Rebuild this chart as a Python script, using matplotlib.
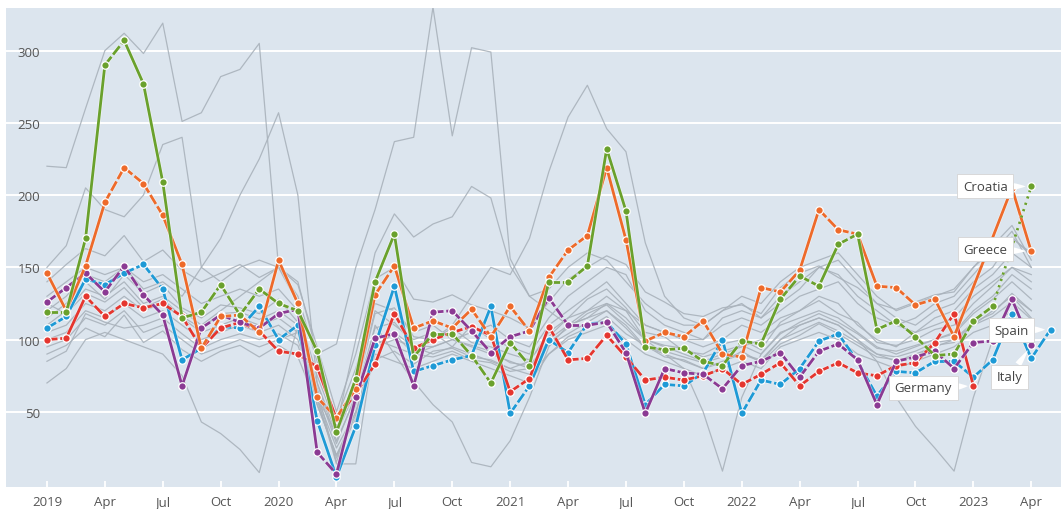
import numpy as np
import matplotlib.pyplot as plt
from matplotlib.collections import LineCollection
import matplotlib.patheffects as pe

plt.rcParams['font.family'] = ['Open Sans', 'DejaVu Sans']

nan = np.nan
months = np.arange(53)  # 0 = Jan 2019 ... 52 = May 2023
tick_pos = np.arange(0, 52, 3)
tick_labels = ['2019', 'Apr', 'Jul', 'Oct', '2020', 'Apr', 'Jul', 'Oct',
               '2021', 'Apr', 'Jul', 'Oct', '2022', 'Apr', 'Jul', 'Oct',
               '2023', 'Apr']
y_ticks = [50, 100, 150, 200, 250, 300]

# highlighted countries
croatia = [119, 119, 170, 290, 307, 277, 209, 115, 119, 138, 117, 135,
           125, 120, 92, 36, 73, 140, 173, 88, 104, 104, 89, 70,
           98, 82, 140, 140, 151, 232, 189, 95, 93, 94, 85, 82,
           99, 97, 128, 144, 137, 166, 173, 107, 113, 102, 89, 90,
           113, 123, nan, 206, nan]
greece = [146, 120, 151, 195, 219, 208, 186, 152, 94, 116, 117, 105,
          155, 125, 60, 46, 66, 131, 151, 108, 113, 108, 121, 102,
          123, 106, 143, 162, 172, 219, 169, 99, 105, 102, 113, 90,
          88, 136, 133, 148, 190, 176, 173, 137, 136, 124, 128, 102,
          nan, nan, 205, 161, nan]
spain = [108, 116, 142, 138, 146, 152, 135, 86, 94, 109, 108, 123,
         100, 110, 44, 5, 40, 96, 137, 78, 82, 86, 89, 123,
         49, 68, 100, 91, 111, 112, 97, 55, 69, 68, 77, 100,
         49, 72, 69, 80, 99, 104, 85, 61, 78, 77, 85, 85,
         74, 86, 118, 87, 107]
italy = [126, 136, 146, 133, 151, 131, 117, 68, 108, 117, 112, 108,
         118, 121, 22, 7, 60, 101, 104, 68, 119, 120, 106, 91,
         102, 106, 129, 110, 110, 112, 91, 49, 80, 77, 76, 66,
         82, 85, 91, 74, 92, 97, 86, 55, 85, 88, 92, 80,
         98, 99, 128, 96, nan]
germany = [100, 101, 130, 116, 125, 122, 125, 116, 94, 108, 112, 106,
           92, 90, 81, 45, 63, 83, 118, 94, 100, 105, 109, 103,
           64, 73, 109, 86, 87, 103, 88, 72, 74, 72, 75, 80,
           69, 76, 84, 68, 78, 84, 77, 75, 82, 84, 98, 118,
           68, nan, nan, nan, nan]

# other countries (grey background lines)
grey_lines = [
    [220, 219, 260, 300, 312, 298, 319, 251, 257, 282, 287, 305,
     150, 125, 60, 35, 70, 120, 110, 100, 105, 95, 110, 100,
     95, 90, 110, 120, 130, 140, 125, 110, 105, 100, 95, 100,
     110, 105, 115, 120, 130, 125, 110, 100, 95, 105, 110, 115,
     130, 140, 150, 145, nan],
    [150, 165, 205, 190, 185, 200, 235, 240, 150, 140, 150, 155,
     150, 130, 85, 45, 80, 125, 120, 105, 110, 100, 105, 110,
     100, 95, 115, 130, 140, 150, 145, 120, 110, 105, 100, 115,
     120, 115, 125, 135, 150, 155, 140, 125, 115, 110, 120, 125,
     140, 150, 170, 160, nan],
    [130, 140, 150, 145, 150, 135, 140, 130, 150, 170, 200, 225,
     257, 200, 70, 30, 60, 100, 95, 90, 95, 100, 95, 90,
     85, 80, 100, 110, 120, 130, 120, 100, 95, 90, 85, 90,
     95, 100, 110, 115, 120, 115, 105, 95, 90, 95, 100, 105,
     120, 130, 145, 135, nan],
    [110, 120, 135, 130, 140, 125, 130, 120, 110, 120, 130, 140,
     150, 140, 90, 97, 150, 190, 237, 240, 330, 241, 302, 299,
     156, 130, 120, 110, 115, 125, 120, 110, 105, 100, 100, 110,
     115, 110, 120, 130, 135, 140, 125, 115, 110, 105, 115, 120,
     135, 145, 160, 150, nan],
    [95, 100, 115, 110, 120, 105, 110, 100, 90, 95, 100, 95,
     100, 105, 60, 25, 50, 95, 100, 95, 100, 110, 130, 150,
     145, 170, 216, 254, 276, 246, 230, 167, 130, 115, 110, 120,
     125, 115, 130, 140, 150, 145, 130, 120, 110, 115, 125, 130,
     145, 160, 175, 150, nan],
    [120, 130, 145, 140, 150, 140, 145, 135, 125, 130, 135, 130,
     135, 120, 75, 40, 100, 160, 187, 171, 180, 185, 206, 198,
     151, 130, 135, 150, 160, 155, 140, 125, 115, 110, 110, 120,
     130, 125, 140, 150, 155, 160, 145, 130, 120, 125, 130, 135,
     150, 165, 179, 155, nan],
    [70, 80, 100, 105, 100, 95, 90, 75, 43, 35, 24, 8,
     60, 110, 55, 20, 45, 90, 85, 80, 85, 90, 85, 80,
     75, 70, 90, 100, 105, 110, 100, 90, 85, 80, 75, 80,
     85, 80, 95, 100, 105, 100, 90, 85, 80, 85, 90, 95,
     105, 110, 120, 110, nan],
    [105, 110, 125, 120, 130, 120, 125, 115, 105, 110, 115, 110,
     115, 105, 65, 15, 55, 110, 90, 71, 55, 43, 15, 12,
     30, 60, 95, 110, 115, 120, 110, 95, 90, 85, 80, 85,
     90, 85, 100, 110, 115, 110, 100, 90, 85, 90, 95, 100,
     110, 120, 130, 120, nan],
    [100, 105, 120, 115, 125, 115, 120, 110, 100, 105, 110, 105,
     110, 100, 60, 14, 14, 100, 105, 95, 90, 95, 90, 85,
     80, 85, 105, 115, 120, 125, 115, 100, 90, 80, 50, 9,
     60, 90, 105, 110, 115, 110, 100, 85, 60, 40, 25, 9,
     60, 100, 130, 115, nan],
    [115, 125, 140, 128, 145, 132, 138, 122, 115, 124, 122, 118,
     128, 112, 70, 35, 65, 118, 122, 102, 100, 108, 98, 95,
     90, 86, 102, 115, 128, 135, 122, 105, 102, 92, 90, 97,
     100, 93, 112, 120, 127, 118, 112, 98, 96, 100, 107, 110,
     125, 137, 150, 140, nan],
    [90, 96, 108, 102, 117, 98, 106, 93, 85, 92, 96, 88,
     96, 88, 55, 20, 50, 86, 92, 83, 92, 94, 88, 86,
     80, 76, 90, 102, 108, 116, 104, 96, 88, 86, 80, 84,
     92, 84, 97, 103, 111, 104, 96, 88, 86, 88, 96, 98,
     110, 116, 126, 114, nan],
    [140, 152, 163, 158, 172, 154, 162, 148, 140, 146, 152, 143,
     150, 138, 95, 50, 90, 142, 150, 128, 126, 131, 124, 120,
     115, 108, 126, 142, 150, 158, 152, 133, 126, 118, 116, 122,
     124, 118, 136, 146, 151, 143, 136, 125, 121, 126, 131, 133,
     150, 162, 171, 158, nan],
    [125, 118, 132, 126, 136, 122, 128, 116, 108, 118, 119, 114,
     120, 110, 66, 28, 62, 108, 112, 96, 95, 100, 96, 92,
     84, 82, 98, 108, 118, 124, 112, 100, 96, 94, 88, 92,
     96, 90, 104, 112, 118, 112, 104, 94, 92, 96, 100, 104,
     118, 128, 140, 128, nan],
    [85, 92, 118, 112, 108, 110, 115, 104, 94, 100, 104, 100,
     104, 96, 58, 18, 48, 96, 104, 90, 88, 92, 86, 84,
     78, 80, 96, 104, 112, 120, 108, 94, 92, 88, 84, 88,
     90, 86, 100, 106, 112, 106, 98, 90, 88, 92, 98, 100,
     112, 118, 132, 120, nan],
]

highlight = [
    ('Spain', spain, '#1e9ad6', ':'),
    ('Germany', germany, '#e5362f', ':'),
    ('Italy', italy, '#8b3a93', ':'),
    ('Greece', greece, '#ee6a2a', 'solid'),
    ('Croatia', croatia, '#6aa12c', (0, (0.8, 1.6))),
]

fig = plt.figure(figsize=(10.61, 5.10), dpi=100)
ax = fig.add_axes([0.0057, 0.0431, 0.9943, 0.9393])
ax.set_facecolor('#dce5ee')

for g in grey_lines:
    ax.plot(months, g, color='#a9b2bb', linewidth=0.9, alpha=0.9, zorder=2)

for z, (name, vals, color, gap_ls) in enumerate(highlight):
    vals = np.asarray(vals, dtype=float)
    ok = np.where(~np.isnan(vals))[0]
    segs, styles = [], []
    for a, b in zip(ok[:-1], ok[1:]):
        segs.append([(months[a], vals[a]), (months[b], vals[b])])
        if b - a > 1:
            styles.append(gap_ls)
        elif abs(vals[b] - vals[a]) >= 25:
            styles.append('solid')
        else:
            styles.append((0, (3.8, 1.0)))
    lc = LineCollection(segs, colors=color, linewidths=2.0, linestyles=styles,
                        zorder=4 + z)
    lc.set_path_effects([pe.Stroke(linewidth=3.0, foreground='white', alpha=0.5),
                         pe.Normal()])
    ax.add_collection(lc)
    ax.plot(months, vals, 'o', color=color, markersize=5.4,
            markeredgecolor='white', markeredgewidth=0.9, zorder=4.5 + z)

# callout labels
label_specs = [
    ('Croatia', 51, croatia[51], (-33, 0)),
    ('Greece', 51, greece[51], (-33, 1.5)),
    ('Spain', 52, spain[52], (-28, -0.5)),
    ('Italy', 51, italy[51], (-15.5, -22.5)),
    ('Germany', 48, germany[48], (-36, -1.5)),
]
for name, m, v, off in label_specs:
    ax.annotate(name, xy=(m, v), xytext=off, textcoords='offset points',
                ha='center', va='center', fontsize=9.5, color='#444444',
                bbox=dict(boxstyle='square,pad=0.42', fc='white',
                          ec='#d4d4d4', lw=0.6),
                arrowprops=dict(arrowstyle='wedge,tail_width=0.5,shrink_factor=0.6',
                                fc='white', ec='none', shrinkA=0, shrinkB=4),
                zorder=20)

ax.set_xlim(-2.12, 52.54)
ax.set_ylim(-2, 329.5)
ax.set_yticks(y_ticks)
ax.set_xticks(tick_pos)
ax.set_xticklabels(tick_labels)
ax.grid(axis='y', color='white', linewidth=1.4)
ax.set_axisbelow(True)
for s in ax.spines.values():
    s.set_visible(False)

ax.tick_params(axis='y', length=0, pad=-24.5, labelsize=9.5, labelcolor='#555555')
ax.tick_params(axis='x', direction='in', length=4, width=1.3, color='white',
               pad=6, labelsize=9.5, labelcolor='#555555')
for lbl in ax.get_yticklabels():
    lbl.set_horizontalalignment('right')
    lbl.set_zorder(10)

fig.savefig('out.png', dpi=100)
